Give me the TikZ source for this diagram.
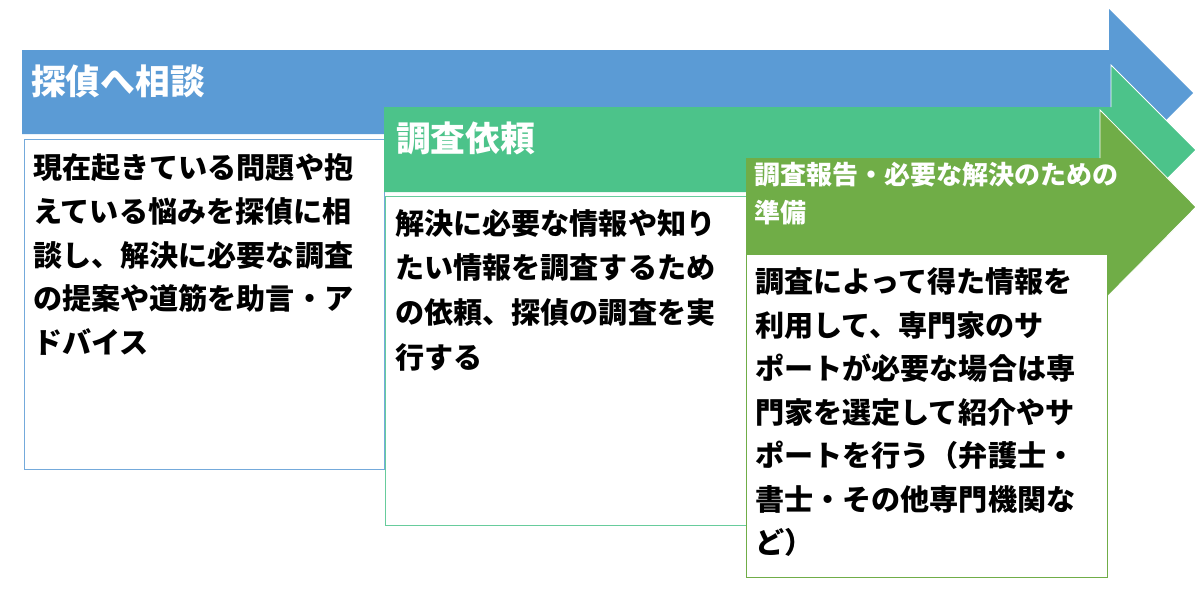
\documentclass[tikz,border=0pt]{standalone}
\usepackage{fontspec}
\newfontfamily\jpfont{Noto Sans CJK JP}
\definecolor{cblue}{RGB}{91,155,213}
\definecolor{cteal}{RGB}{76,195,138}
\definecolor{cgreen}{RGB}{112,173,71}
\tikzset{
  infobox/.style={fill=white, line width=0.9pt},
  title/.style={anchor=west, inner sep=0pt, text=white, align=left, font=\jpfont\bfseries},
  body/.style={anchor=west, inner sep=0pt, text=black, align=left},
}
\begin{document}
\begin{tikzpicture}[x=1pt,y=-1pt]
\useasboundingbox (0,0) rectangle (1200,600);
% arrow 1 (blue)
\fill[cblue] (22,50) -- (1109,50) -- (1109,9) -- (1193,93) -- (1109,177) -- (1109,134) -- (22,134) -- cycle;
\draw[infobox, draw=cblue!85] (24,139) rectangle (384,469);
\node[title, font=\jpfont\bfseries\fontsize{34.7}{40}\selectfont] (t1) at (31,81) {探偵へ相談};
\node[body, font=\jpfont\bfseries\fontsize{29.1}{43.75}\selectfont] (b1) at (33,254.5) {現在起きている問題や抱\\えている悩みを探偵に相\\談し、解決に必要な調査\\の提案や道筋を助言・ア\\ドバイス};
% arrow 2 (teal)
\fill[cteal] (384,107) -- (1111,107) -- (1111,65) -- (1196,150) -- (1111,235) -- (1111,192) -- (384,192) -- cycle;
\draw[white, line width=0.8pt] (1111,107) -- (1111,65) -- (1196,150) -- (1111,235);
\draw[infobox, draw=cteal!85] (385,196) rectangle (746,525);
\node[title, font=\jpfont\bfseries\fontsize{34.7}{40}\selectfont] (t2) at (396,138) {調査依頼};
\node[body, font=\jpfont\bfseries\fontsize{29.1}{44.7}\selectfont] (b2) at (395,290) {解決に必要な情報や知り\\たい情報を調査するため\\の依頼、探偵の調査を実\\行する};
% arrow 3 (green)
\fill[cgreen] (746,158) -- (1100,158) -- (1100,110) -- (1196,207) -- (1100,304) -- (1100,256) -- (746,256) -- cycle;
\draw[white, line width=0.8pt] (1100,158) -- (1100,110) -- (1196,207) -- (1100,304);
\draw[infobox, draw=cgreen] (746,254) rectangle (1107,577);
\node[title, font=\jpfont\bfseries\fontsize{26}{38}\selectfont] (t3) at (754,194) {調査報告・必要な解決のための\\準備};
\node[body, font=\jpfont\bfseries\fontsize{29.1}{43.5}\selectfont] (b3) at (755,412.5) {調査によって得た情報を\\利用して、専門家のサ\\ポートが必要な場合は専\\門家を選定して紹介やサ\\ポートを行う（弁護士・\\書士・その他専門機関な\\ど）};
\end{tikzpicture}
\end{document}
